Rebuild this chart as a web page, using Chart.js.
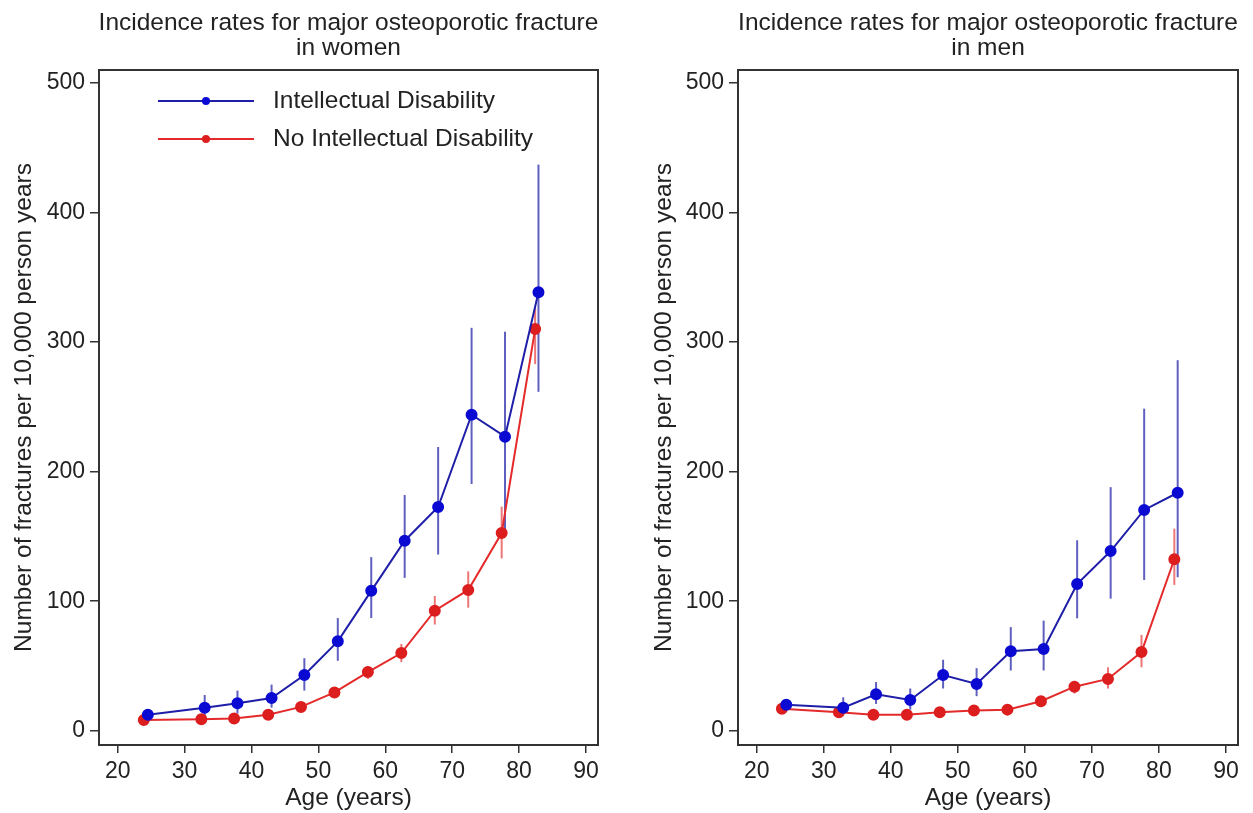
<!DOCTYPE html>
<html>
<head>
<meta charset="utf-8">
<script src="https://cdn.jsdelivr.net/npm/chart.js@4"></script>
<style>
  body { margin: 0; background: #fff; }
  canvas { position: absolute; top: 0; }
  #women { left: 0; }
  #men { left: 626px; }
</style>
</head>
<body>
<canvas id="women" width="626" height="813"></canvas>
<canvas id="men" width="627" height="813"></canvas>
<script>
// x and y ticks
const xTicks = [20, 30, 40, 50, 60, 70, 80, 90];
const yTicks = [0, 100, 200, 300, 400, 500];

// women - intellectual disability
const womenAgeID = [24.5, 33, 37.9, 43, 47.9, 52.9, 57.9, 62.9, 67.9, 72.9, 77.9, 82.9];
const womenID    = [12.4, 17.8, 21.3, 25.2, 43, 69, 108, 146.7, 172.7, 243.9, 227, 338.4];
const womenIDLo  = [8.9, 8.9, 13.3, 17.8, 31, 54, 87, 118, 136, 190.5, 152.6, 261.6];
const womenIDHi  = [15.7, 27.6, 31, 35.6, 56, 87, 134, 182, 219, 311, 308, 437];
// women - no intellectual disability
const womenAgeNo = [23.9, 32.5, 37.4, 42.5, 47.4, 52.4, 57.4, 62.4, 67.4, 72.4, 77.4, 82.4];
const womenNo    = [8.3, 8.9, 9.5, 12.4, 18.4, 29.6, 45.3, 60, 92.7, 108.7, 152.6, 310];
const womenNoLo  = [7, 8, 8, 11, 15.7, 26.7, 40, 53, 82, 95, 133, 283];
const womenNoHi  = [10, 10, 11, 14, 20.7, 32.6, 50, 67, 104, 123, 173, 326];

// men - intellectual disability
const menAgeID = [24.4, 32.9, 37.8, 42.9, 47.8, 52.8, 57.9, 62.8, 67.8, 72.8, 77.8, 82.8];
const menID    = [20.1, 17.8, 28.1, 23.7, 43, 36.1, 61.3, 63.1, 113.2, 138.7, 170.4, 183.7];
const menIDLo  = [18, 13.3, 20.7, 16.3, 32.6, 26.7, 46.5, 46.5, 86.8, 102, 116.4, 118.5];
const menIDHi  = [22, 25.8, 37.6, 32.6, 54.8, 48.3, 80, 85, 147, 188, 248.6, 286];
// men - no intellectual disability
const menAgeNo = [23.75, 32.25, 37.4, 42.4, 47.3, 52.4, 57.4, 62.4, 67.4, 72.4, 77.4, 82.3];
const menNo    = [16.9, 14.2, 12.4, 12.4, 14.2, 15.7, 16.3, 22.8, 34, 40, 60.7, 132.4];
const menNoLo  = [15, 12.5, 11, 11, 12.5, 14, 14.5, 19.3, 28.7, 32.6, 49, 112.6];
const menNoHi  = [19, 16, 14, 14, 16, 17.5, 18.5, 25.8, 38.5, 49, 74, 156];

const labels = ["Intellectual Disability", "No Intellectual Disability"];

const colors = {
    blueLine: "#1e1ea8",
    blueDot: "#0a0ad2",
    blueBar: "rgba(55, 55, 175, 0.8)",
    redLine: "#e42a2a",
    redDot: "#dc1e1e",
    redBar: "rgba(230, 60, 60, 0.7)",
    axis: "#333333",
    text: "#222222",
};
const fontFamily = "'Liberation Sans', Arial, sans-serif";

function toPoints(xs, ys) {
    return xs.map((x, i) => ({ x: x, y: ys[i] }));
}

// draws the confidence interval bars behind the lines
const errorBarPlugin = {
    id: "errorBars",
    beforeDatasetsDraw(chart) {
	const ctx = chart.ctx;
	const xScale = chart.scales.x;
	const yScale = chart.scales.y;
	chart.data.datasets.forEach(ds => {
	    ctx.save();
	    ctx.strokeStyle = ds.barColor;
	    ctx.lineWidth = 2;
	    ds.ages.forEach((age, i) => {
		const px = xScale.getPixelForValue(age);
		ctx.beginPath();
		ctx.moveTo(px, yScale.getPixelForValue(ds.lo[i]));
		ctx.lineTo(px, yScale.getPixelForValue(ds.hi[i]));
		ctx.stroke();
	    });
	    ctx.restore();
	});
    }
};

// frame, two line title and optional legend
const framePlugin = {
    id: "frame",
    afterDraw(chart, args, opts) {
	const ctx = chart.ctx;
	const area = chart.chartArea;
	ctx.save();
	ctx.strokeStyle = colors.axis;
	ctx.lineWidth = 2;
	ctx.strokeRect(area.left, area.top, area.right - area.left, area.bottom - area.top);

	ctx.fillStyle = colors.text;
	ctx.font = "24.5px " + fontFamily;
	ctx.textAlign = "center";
	ctx.textBaseline = "middle";
	const cx = (area.left + area.right) / 2;
	opts.title.forEach((line, i) => ctx.fillText(line, cx, 23.5 + i * 25));

	if (opts.legend) {
	    ctx.font = "24.5px " + fontFamily;
	    ctx.textAlign = "left";
	    chart.data.datasets.forEach((ds, i) => {
		const y = 101 + i * 38;
		ctx.strokeStyle = ds.borderColor;
		ctx.lineWidth = 2;
		ctx.beginPath();
		ctx.moveTo(area.left + 59, y);
		ctx.lineTo(area.left + 155, y);
		ctx.stroke();
		ctx.fillStyle = ds.pointBackgroundColor;
		ctx.beginPath();
		ctx.arc(area.left + 107, y, 4, 0, Math.PI * 2);
		ctx.fill();
		ctx.fillStyle = colors.text;
		ctx.fillText(ds.label, area.left + 174, y);
	    });
	}
	ctx.restore();
    }
};

function makeChart(canvas, cfg) {
    return new Chart(canvas, {
	type: "line",
	plugins: [errorBarPlugin, framePlugin],
	options: {
	    responsive: false,
	    animation: false,
	    layout: { padding: { top: 70, right: cfg.rightPad, left: 0, bottom: 0 } },
	    plugins: {
		legend: { display: false },
		tooltip: { enabled: false },
		frame: { title: cfg.title, legend: cfg.legend },
	    },
	    scales: {
		x: {
		    type: "linear",
		    min: 17.2,
		    max: 91.8,
		    afterBuildTicks: scale => { scale.ticks = xTicks.map(v => ({ value: v })); },
		    afterFit: scale => { scale.height = 68; },
		    grid: { drawOnChartArea: false, tickLength: 8, color: colors.axis, lineWidth: 1.5 },
		    border: { display: false },
		    ticks: { color: colors.text, font: { size: 23, family: fontFamily }, padding: 5, maxRotation: 0 },
		    title: { display: true, text: "Age (years)", color: colors.text, font: { size: 24.5, family: fontFamily }, padding: { top: -2, bottom: 0 } },
		},
		y: {
		    min: -11,
		    max: 510,
		    afterBuildTicks: scale => { scale.ticks = yTicks.map(v => ({ value: v })); },
		    afterFit: scale => { scale.width = cfg.yWidth; },
		    grid: { drawOnChartArea: false, tickLength: 9, color: colors.axis, lineWidth: 1.5 },
		    border: { display: false },
		    ticks: { color: colors.text, font: { size: 23, family: fontFamily }, padding: 5 },
		    title: { display: true, text: "Number of fractures per 10,000 person years", color: colors.text, font: { size: 24.5, family: fontFamily }, padding: { top: cfg.titlePad, bottom: 0 } },
		},
	    },
	},
	data: {
	    datasets: [
		{
		    label: labels[0],
		    data: toPoints(cfg.ageID, cfg.id),
		    ages: cfg.ageID, lo: cfg.idLo, hi: cfg.idHi,
		    barColor: colors.blueBar,
		    borderColor: colors.blueLine,
		    borderWidth: 2,
		    pointBackgroundColor: colors.blueDot,
		    pointBorderColor: colors.blueDot,
		    pointRadius: 5,
		    tension: 0,
		},
		{
		    label: labels[1],
		    data: toPoints(cfg.ageNo, cfg.no),
		    ages: cfg.ageNo, lo: cfg.noLo, hi: cfg.noHi,
		    barColor: colors.redBar,
		    borderColor: colors.redLine,
		    borderWidth: 2,
		    pointBackgroundColor: colors.redDot,
		    pointBorderColor: colors.redDot,
		    pointRadius: 5,
		    tension: 0,
		},
	    ],
	},
    });
}

makeChart(document.getElementById("women"), {
    title: ["Incidence rates for major osteoporotic fracture", "in women"],
    legend: true,
    rightPad: 28,
    yWidth: 99,
    titlePad: 10,
    ageID: womenAgeID, id: womenID, idLo: womenIDLo, idHi: womenIDHi,
    ageNo: womenAgeNo, no: womenNo, noLo: womenNoLo, noHi: womenNoHi,
});

makeChart(document.getElementById("men"), {
    title: ["Incidence rates for major osteoporotic fracture", "in men"],
    legend: false,
    rightPad: 15,
    yWidth: 112,
    titlePad: 24,
    ageID: menAgeID, id: menID, idLo: menIDLo, idHi: menIDHi,
    ageNo: menAgeNo, no: menNo, noLo: menNoLo, noHi: menNoHi,
});
</script>
</body>
</html>
